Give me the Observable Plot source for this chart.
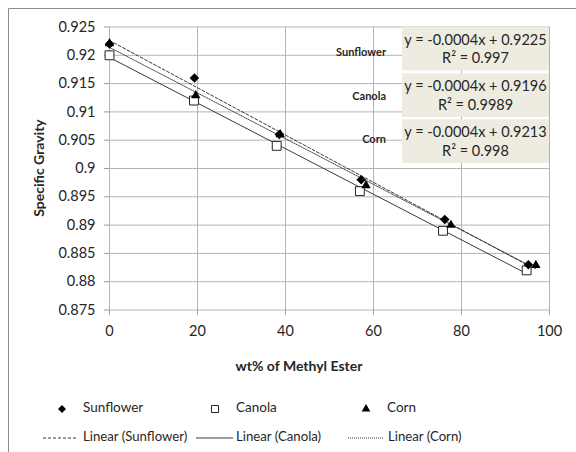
<!DOCTYPE html>
<html>
<head>
<meta charset="utf-8">
<script src="https://cdn.jsdelivr.net/npm/d3@7"></script>
<script src="https://cdn.jsdelivr.net/npm/@observablehq/plot@0.6"></script>
<style>
  html, body { margin: 0; padding: 0; background: #fff; }
  #chart { width: 576px; height: 452px; }
</style>
</head>
<body>
<div id="chart"></div>
<script>
// ---- data ----
const seriesNames = ["Sunflower", "Canola", "Corn"];
const xSunflower = [0, 19.3, 38.6, 57.2, 76.2, 95.2];
const ySunflower = [0.922, 0.916, 0.906, 0.898, 0.891, 0.883];
const xCanola = [0, 19.2, 38.0, 56.9, 75.8, 94.8];
const yCanola = [0.920, 0.912, 0.904, 0.896, 0.889, 0.882];
const xCorn = [0, 19.6, 38.8, 58.3, 77.6, 96.9];
const yCorn = [0.9221, 0.9129, 0.906, 0.897, 0.890, 0.8829];
const eqTexts = ["y = -0.0004x + 0.9225", "y = -0.0004x + 0.9196", "y = -0.0004x + 0.9213"];
const r2Texts = ["R² = 0.997", "R² = 0.9989", "R² = 0.998"];
const xTicks = [0, 20, 40, 60, 80, 100];
const yTicks = [0.875, 0.88, 0.885, 0.89, 0.895, 0.9, 0.905, 0.91, 0.915, 0.92, 0.925];
const xLabel = "wt% of Methyl Ester";
const yLabel = "Specific Gravity";

const table = [];
[[xSunflower, ySunflower], [xCanola, yCanola], [xCorn, yCorn]].forEach(([xs, ys], i) => {
  xs.forEach((x, j) => table.push({series: seriesNames[i], x, y: ys[j]}));
});
const bySeries = name => table.filter(d => d.series === name);

const FONT = "Lato, 'Open Sans', sans-serif";
const W = 576, H = 452;
const mL = 109, mR = 27, mT = 26.5, mB = 142.5;
const gridColor = "#b4b4b4";
const textColor = "#262626";

const plot = Plot.plot({
  width: W, height: H,
  marginLeft: mL, marginRight: mR, marginTop: mT, marginBottom: mB,
  x: {domain: [0, 100]},
  y: {domain: [0.875, 0.925]},
  style: {fontFamily: FONT, fontSize: "14px", color: textColor, background: "#fff"},
  marks: [
    Plot.gridX(xTicks, {stroke: gridColor, strokeOpacity: 1}),
    Plot.gridY(yTicks, {stroke: gridColor, strokeOpacity: 1}),
    Plot.axisY(yTicks, {label: null, tickSize: 5, tickPadding: 9, stroke: "#999", tickFormat: d => String(d), fill: textColor, fontSize: 14.5}),
    Plot.axisX(xTicks, {label: null, tickSize: 5, tickPadding: 11, stroke: "#999", tickFormat: d => String(d), fill: textColor, fontSize: 14.5}),
    Plot.linearRegressionY(bySeries("Sunflower"), {x: "x", y: "y", ci: 0, stroke: "#222", strokeWidth: 0.9, strokeDasharray: "3,2"}),
    Plot.linearRegressionY(bySeries("Canola"), {x: "x", y: "y", ci: 0, stroke: "#222", strokeWidth: 0.9}),
    Plot.linearRegressionY(bySeries("Corn"), {x: "x", y: "y", ci: 0, stroke: "#333", strokeWidth: 0.9, strokeDasharray: "1,1"}),
    Plot.dot(bySeries("Canola"), {x: "x", y: "y", symbol: "square", r: 5, fill: "#fff", stroke: "#222", strokeWidth: 1}),
    Plot.dot(bySeries("Sunflower"), {x: "x", y: "y", symbol: "diamond2", r: 4.3, fill: "#000", stroke: "none"}),
    Plot.dot(bySeries("Corn"), {x: "x", y: "y", symbol: "triangle2", r: 4.5, fill: "#000", stroke: "none"})
  ]
});
document.getElementById("chart").appendChild(plot);

const svg = d3.select(plot);

// outer chart border (top and left visible)
svg.append("path")
  .attr("d", `M8.5,${H} L8.5,8.5 L${W},8.5`)
  .attr("fill", "none").attr("stroke", "#8c8c8c").attr("stroke-width", 1);

// axis titles
svg.append("text")
  .attr("x", 299).attr("y", 367)
  .attr("text-anchor", "middle").attr("dominant-baseline", "middle").attr("font-family", FONT).attr("font-weight", "bold")
  .attr("font-size", 14).attr("fill", textColor).text(xLabel);
svg.append("text")
  .attr("transform", `translate(40,168) rotate(-90)`)
  .attr("text-anchor", "middle").attr("dominant-baseline", "middle").attr("font-family", FONT).attr("font-weight", "bold")
  .attr("font-size", 14).attr("fill", textColor).text(yLabel);

// trendline labels
const boxRight = W - mR, boxLeft = boxRight - 147;
const boxTops = [26.7, 73.3, 119.3];
const boxH = 43.7;
const nameY = [53, 97, 140];
seriesNames.forEach((name, i) => {
  const g = svg.append("g");
  g.append("rect").attr("x", boxLeft).attr("y", boxTops[i]).attr("width", boxRight - boxLeft).attr("height", boxH)
    .attr("fill", "#eeece1");
  g.append("text").attr("x", (boxLeft + boxRight) / 2).attr("y", boxTops[i] + 14.5)
    .attr("text-anchor", "middle").attr("dominant-baseline", "middle")
    .attr("font-family", FONT).attr("font-size", 14.5).attr("fill", textColor).text(eqTexts[i]);
  g.append("text").attr("x", (boxLeft + boxRight) / 2).attr("y", boxTops[i] + 33)
    .attr("text-anchor", "middle").attr("dominant-baseline", "middle")
    .attr("font-family", FONT).attr("font-size", 14.5).attr("fill", textColor).text(r2Texts[i]);
  svg.append("text").attr("x", 386).attr("y", nameY[i])
    .attr("text-anchor", "end").attr("dominant-baseline", "middle")
    .attr("font-family", FONT).attr("font-weight", "bold").attr("font-size", 11).attr("fill", textColor).text(name);
});

// legend
const legendRow1 = 409, legendRow2 = 438;
const symX = [62, 215, 366];
const symbols = [d3.symbolDiamond2, d3.symbolSquare, d3.symbolTriangle2];
const symSizes = [40, 50, 55];
seriesNames.forEach((name, i) => {
  const p = svg.append("path").attr("transform", `translate(${symX[i]},${legendRow1})`)
    .attr("d", d3.symbol(symbols[i], symSizes[i])());
  if (i === 1) p.attr("fill", "#fff").attr("stroke", "#222");
  else p.attr("fill", "#000");
  svg.append("text").attr("x", symX[i] + 21).attr("y", legendRow1)
    .attr("text-anchor", "start").attr("dominant-baseline", "middle").attr("font-family", FONT).attr("font-size", 13.5)
    .attr("fill", textColor).text(name);
});
const lineSeg = [[43, 78, "3,2"], [196, 233, null], [348, 383, "1,1"]];
const lineTextX = [83, 236, 388];
seriesNames.forEach((name, i) => {
  const [a, b, dash] = lineSeg[i];
  const l = svg.append("line").attr("x1", a).attr("x2", b).attr("y1", legendRow2).attr("y2", legendRow2)
    .attr("stroke", "#222").attr("stroke-width", 0.9);
  if (dash) l.attr("stroke-dasharray", dash);
  svg.append("text").attr("x", lineTextX[i]).attr("y", legendRow2)
    .attr("text-anchor", "start").attr("dominant-baseline", "middle").attr("font-family", FONT).attr("font-size", 13.2)
    .attr("fill", textColor).text(`Linear (${name})`);
});
</script>
</body>
</html>
